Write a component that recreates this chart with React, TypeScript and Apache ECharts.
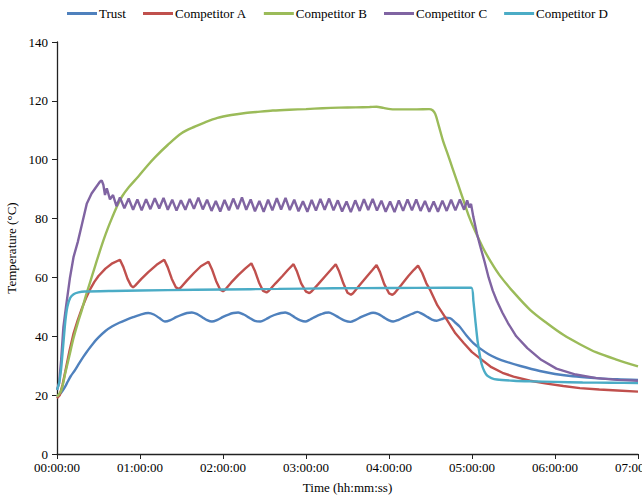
import React, { useEffect, useRef } from "react";
import * as echarts from "echarts";

// time in minutes, temperature in °C
const trustT = [0, 2, 4, 6, 8, 10, 13, 16, 19, 22, 26, 30, 35, 40, 45, 50, 55, 60, 66, 70, 74, 78, 82, 86, 90, 94, 97.5, 101, 105, 108.5, 112, 116, 120, 124, 127.5, 131, 135, 139, 143, 147, 151, 155, 159, 162, 165, 168.5, 172, 176, 179.5, 183, 187, 191, 194, 196.5, 200, 204, 208, 212, 216, 220, 224, 228.5, 232, 236, 240, 243, 247, 251, 255, 258, 260.5, 264, 268, 271, 274.5, 278, 281, 284, 288, 291, 296, 301, 306, 312, 318, 325, 335, 349, 360, 373, 390, 405, 420];
const trustV = [19.6, 20.3, 21.5, 23, 24.8, 26.5, 28.5, 30.8, 33, 35, 37.5, 39.6, 41.8, 43.4, 44.6, 45.6, 46.5, 47.3, 47.9, 47.4, 46.2, 45.0, 45.5, 46.5, 47.3, 47.9, 48.1, 47.6, 46.5, 45.5, 45.0, 45.6, 46.6, 47.4, 47.9, 48.1, 47.4, 46.3, 45.2, 45.0, 45.8, 46.8, 47.5, 47.9, 48.1, 47.5, 46.4, 45.4, 45.0, 45.7, 46.7, 47.5, 48.0, 48.1, 47.4, 46.3, 45.3, 44.9, 45.6, 46.6, 47.4, 48.0, 47.6, 46.5, 45.4, 45.0, 45.6, 46.5, 47.3, 47.9, 48.3, 47.6, 46.5, 45.7, 45.3, 45.8, 46.3, 46.2, 44.6, 43.3, 40.3, 37.7, 35.8, 33.9, 32.5, 31.3, 29.9, 28.2, 27.2, 26.4, 25.8, 25.4, 25.2];

const compAT = [0, 2, 4, 6, 9, 12, 15, 18, 21, 24, 27, 30, 35, 40, 45.5, 48, 51, 53.5, 55, 56.5, 61, 66, 72, 77.5, 80, 83, 86, 88, 89.5, 94, 99, 104, 109.5, 112, 115, 118, 120, 121.5, 126, 131, 136, 140.5, 143, 146, 149, 151.5, 153, 158, 163, 167, 171, 173.5, 176.5, 180, 182.5, 184, 189, 194, 198, 201.5, 204, 207, 210, 212.5, 214, 219, 224, 228, 231, 233.5, 236.5, 240, 242.5, 244, 249, 254, 258, 261, 264, 267, 270, 275, 282, 288, 294, 300, 306, 314, 322, 330, 342, 354, 366, 378, 392, 405, 420];
const compAV = [19, 20, 23.5, 28, 35, 41, 45.5, 49.5, 53, 56, 58.5, 60.5, 63, 64.8, 66, 63.5, 59.5, 57.2, 56.6, 57.2, 59.5, 61.8, 64.3, 66, 63.5, 59.5, 56.6, 56.1, 56.6, 59, 61.5, 63.8, 65.3, 62.8, 58.8, 55.8, 55.3, 55.8, 58.3, 60.8, 63, 64.8, 62.3, 58.3, 55.4, 54.9, 55.4, 58, 60.5, 62.6, 64.5, 62, 58, 55.2, 54.7, 55.2, 57.8, 60.5, 62.6, 64.5, 62, 58, 54.8, 54.1, 54.6, 57.5, 60.3, 62.5, 64.2, 61.8, 57.8, 54.6, 54.1, 54.6, 57.5, 60.5, 62.6, 64, 61.5, 58, 55.5, 50.5, 45.5, 41, 37.7, 34.6, 32.4, 29.5, 27.6, 26.3, 24.9, 23.9, 23.1, 22.4, 21.9, 21.6, 21.2];

const compBT = [0, 3, 6, 9, 12, 15, 18, 21, 24, 27, 30, 33.5, 37, 40, 43, 47, 52, 58.8, 65, 70.8, 80, 90, 100, 107, 116, 126, 135, 144, 156, 168, 180, 192, 204, 216, 226, 231, 236, 241, 250, 260, 269, 271.5, 273.5, 276, 279, 282, 286, 290, 294, 298, 302, 308, 314, 320, 330, 342, 354, 366, 378, 390, 405, 420];
const compBV = [19.5, 21.5, 27.5, 33.5, 39.5, 44.5, 49, 54, 58.5, 63, 67.5, 72.5, 77, 80.5, 83.8, 87.5, 90.7, 94.3, 97.8, 100.8, 105, 109, 111.3, 112.7, 114.2, 115.2, 115.8, 116.2, 116.7, 117, 117.2, 117.5, 117.7, 117.8, 117.9, 118.0, 117.6, 117.2, 117.1, 117.1, 117.2, 116.8, 115.5, 111.5, 106.5, 102.5, 97, 91.5, 86, 80.5, 76, 70, 65, 60.7, 55, 49, 44.5, 40.5, 37.3, 34.5, 32, 29.8];

const compCT = [0, 1.5, 3, 4.6, 6.5, 9.4, 12, 15, 18, 21.5, 25, 28.7, 31, 32.3, 33.5, 34.7, 36, 38.3, 40.5, 43, 45.5, 48.7, 51.8, 55, 58.1, 61.2, 64.4, 67.5, 70.7, 73.9, 77, 80.1, 83.3, 86.4, 89.6, 92.8, 95.9, 99, 102.2, 105.4, 108.5, 111.7, 114.8, 118, 121.1, 124.3, 127.4, 130.6, 133.7, 136.8, 140, 143.1, 146.3, 149.4, 152.6, 155.7, 158.9, 162, 165.2, 168.3, 171.5, 174.6, 177.8, 181, 184.1, 187.2, 190.4, 193.5, 196.7, 199.9, 203, 206.1, 209.3, 212.4, 215.6, 218.8, 221.9, 225, 228.2, 231.3, 234.5, 237.6, 240.8, 244, 247.1, 250.2, 253.4, 256.6, 259.7, 262.8, 266, 269.1, 272.3, 275.4, 278.6, 281.7, 284.9, 288, 291.2, 294.3, 296.5, 298, 299.3, 301, 303.5, 306, 309, 312, 315, 318, 322, 326, 332, 340, 350, 361, 375, 390, 405, 420];
const compCV = [21.8, 24, 32, 43, 50, 60, 67, 72, 78, 85, 88.5, 91, 92.5, 93, 91.5, 88, 90.3, 86.5, 88, 84.2, 87.2, 83.5, 86.8, 83, 86.5, 82.8, 86.6, 83.2, 86.9, 83.4, 87, 83, 86.4, 82.7, 86.2, 83, 86.7, 83.3, 87.1, 83.1, 86.4, 82.6, 86, 82.4, 86.3, 82.8, 86.8, 83.2, 87.2, 83, 86.5, 82.5, 86, 82.3, 86.4, 82.8, 86.9, 83.1, 87, 82.9, 86.4, 82.5, 85.9, 82.3, 86.3, 82.7, 86.7, 83, 86.8, 82.8, 86.2, 82.4, 85.8, 82.2, 86.2, 82.6, 86.6, 82.9, 86.7, 82.7, 86.1, 82.3, 85.8, 82.2, 86.2, 82.6, 86.5, 82.8, 86.5, 82.6, 86, 82.3, 85.8, 82.3, 86.1, 82.6, 86.4, 82.8, 86.5, 83, 86.2, 83.8, 85, 80.5, 75, 70.5, 65.5, 60, 55.5, 52, 48, 44.5, 40, 36, 32, 29, 27, 25.8, 25.2, 24.9];

const compDT = [0, 1.5, 3, 4.5, 6, 7.5, 9.5, 12, 15.5, 20, 40, 80, 120, 160, 200, 240, 280, 299.5, 301, 302.5, 304, 305.5, 307, 309, 311, 314, 318, 330, 342, 360, 380, 400, 420];
const compDV = [21.8, 24, 29, 37, 45, 50, 53, 54.3, 54.9, 55.2, 55.4, 55.7, 55.9, 56.1, 56.3, 56.4, 56.5, 56.5, 52, 45, 38.5, 34, 30.5, 28, 26.6, 25.8, 25.3, 24.9, 24.7, 24.5, 24.3, 24.2, 24.1];

const seriesNames = ["Trust", "Competitor A", "Competitor B", "Competitor C", "Competitor D"];
const seriesColors = ["#4F81BD", "#C0504D", "#9BBB59", "#8064A2", "#4BACC6"];
const seriesTimes = [trustT, compAT, compBT, compCT, compDT];
const seriesValues = [trustV, compAV, compBV, compCV, compDV];
const seriesSmooth = [0.3, false, 0.3, false, 0.2];

const yTicks = [0, 20, 40, 60, 80, 100, 120, 140];
const xTickMinutes = [0, 60, 120, 180, 240, 300, 360, 420];

const FONT = "Liberation Serif";

function fmtTime(m: number): string {
  const h = Math.floor(m / 60);
  const mm = Math.round(m - h * 60);
  const p = (n: number) => (n < 10 ? "0" + n : "" + n);
  return p(h) + ":" + p(mm) + ":00";
}

export default function App() {
  const ref = useRef<HTMLDivElement>(null);
  useEffect(() => {
    if (!ref.current) return;
    const chart = echarts.init(ref.current, null, { renderer: "svg" });
    const series = seriesNames.map((name, i) => ({
      name,
      type: "line",
      data: seriesTimes[i].map((t, j) => [t, seriesValues[i][j]]),
      showSymbol: false,
      symbol: "none",
      smooth: seriesSmooth[i],
      lineStyle: { color: seriesColors[i], width: 2.4 },
      itemStyle: { color: seriesColors[i] },
      z: 2,
    }));
    chart.setOption({
      animation: false,
      backgroundColor: "#ffffff",
      textStyle: { fontFamily: FONT },
      legend: {
        top: 7,
        left: 67,
        padding: 0,
        icon: "rect",
        itemWidth: 30,
        itemHeight: 3,
        itemGap: 17,
        textStyle: { fontFamily: FONT, fontSize: 13, color: "#000", padding: [0, 0, 0, -3] },
        data: seriesNames,
      },
      grid: { left: 57, right: 4, top: 42, bottom: 43, containLabel: false, outerBoundsMode: "none" },
      xAxis: {
        type: "value",
        min: xTickMinutes[0],
        max: xTickMinutes[xTickMinutes.length - 1],
        interval: 60,
        name: "Time (hh:mm:ss)",
        nameLocation: "middle",
        nameGap: 27,
        nameTextStyle: { fontFamily: FONT, fontSize: 13, color: "#000" },
        axisLine: { lineStyle: { color: "#222", width: 1.3 } },
        axisTick: { show: true, length: 5, lineStyle: { color: "#222" } },
        axisLabel: {
          fontFamily: FONT,
          fontSize: 13,
          color: "#000",
          margin: 7,
          formatter: (v: number) => fmtTime(v),
        },
        splitLine: { show: false },
      },
      yAxis: {
        type: "value",
        min: yTicks[0],
        max: yTicks[yTicks.length - 1],
        interval: 20,
        name: "Temperature (°C)",
        nameLocation: "middle",
        nameGap: 36,
        nameTextStyle: { fontFamily: FONT, fontSize: 13, color: "#000" },
        axisLine: { show: true, lineStyle: { color: "#222", width: 1.3 } },
        axisTick: { show: true, length: 5, lineStyle: { color: "#222" } },
        axisLabel: { fontFamily: FONT, fontSize: 13, color: "#000", margin: 9 },
        splitLine: { show: false },
      },
      series,
    });
    return () => chart.dispose();
  }, []);
  return (
    <div
      ref={ref}
      style={{ position: "fixed", left: 0, top: 0, width: 642, height: 497, background: "#fff" }}
    />
  );
}
